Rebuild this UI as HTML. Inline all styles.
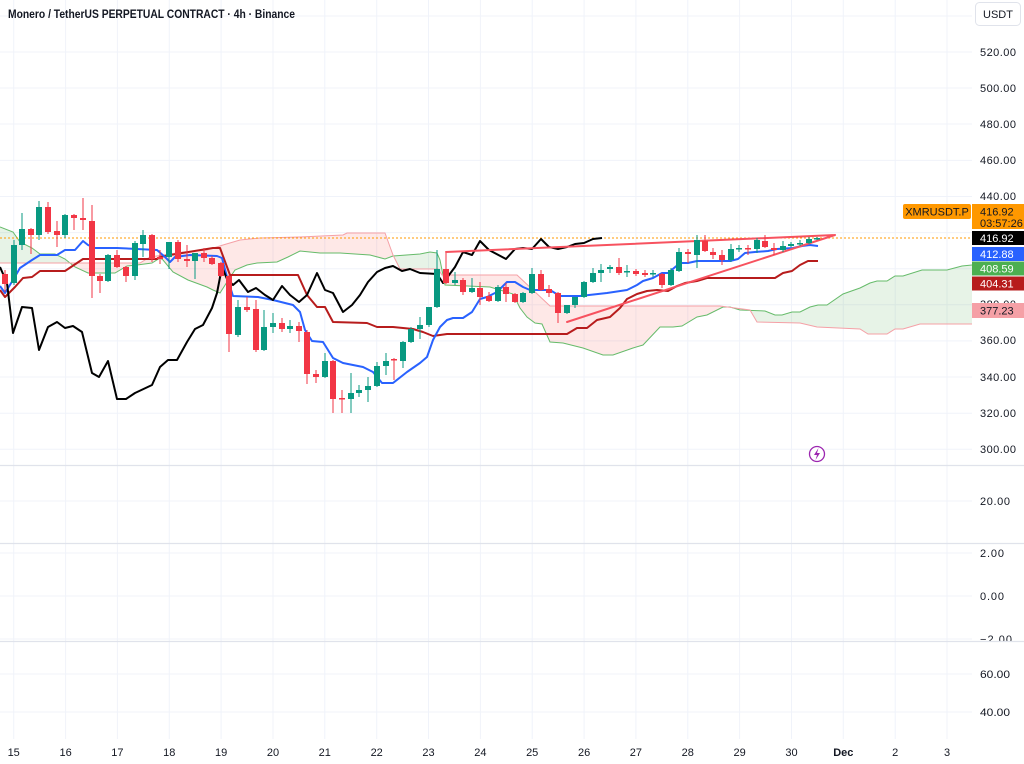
<!DOCTYPE html>
<html><head><meta charset="utf-8"><style>
html,body{margin:0;padding:0;background:#fff;}
svg{display:block;font-family:"Liberation Sans",sans-serif;}
</style></head><body>
<svg width="1024" height="764" viewBox="0 0 1024 764" xmlns="http://www.w3.org/2000/svg" xmlns:xlink="http://www.w3.org/1999/xlink">
<defs>
<clipPath id="above"><path d="M0,0 L0,263 140,263 150,257 183,252 207,250 223,245 240,240 260,238 300,237 343,235 347,233 385,233 393,255 400,269 438,269 442,275 517,275 550,306 720,306 750,310 757,322 800,323 817,327 860,329 868,334 887,334 895,329 903,329 920,324 972,324 L972,0 Z"/></clipPath>
<clipPath id="below"><path d="M0,263 140,263 150,257 183,252 207,250 223,245 240,240 260,238 300,237 343,235 347,233 385,233 393,255 400,269 438,269 442,275 517,275 550,306 720,306 750,310 757,322 800,323 817,327 860,329 868,334 887,334 895,329 903,329 920,324 972,324 L972,465 L0,465 Z"/></clipPath>
<clipPath id="plot"><rect x="0" y="0" width="972" height="465"/></clipPath>
<polygon id="cloud" points="0,227 13,232 20,242 32,248 40,254 55,254 65,259 75,267 88,273 115,273 127,266 137,265 152,263 160,258 163,260 173,272 188,280 207,287 213,290 220,293 227,282 235,270 247,265 257,263 277,262 288,257 300,251 320,253 340,253 370,255 385,259 393,256 420,254 430,252 437,253 440,260 445,285 490,287 513,294 520,308 527,317 535,323 542,324 550,342 563,343 583,348 603,355 613,355 633,348 643,345 660,327 673,327 682,326 697,317 707,315 723,307 730,307 740,310 765,311 775,315 782,315 792,312 800,312 810,307 818,305 827,305 843,294 860,288 870,283 877,281 887,281 895,276 903,276 922,270 947,270 962,266 972,265 972,324 920,324 903,329 895,329 887,334 868,334 860,329 817,327 800,323 757,322 750,310 720,306 550,306 517,275 442,275 438,269 400,269 393,255 385,233 347,233 343,235 300,237 260,238 240,240 223,245 207,250 183,252 150,257 140,263 0,263"/>
</defs>
<rect width="1024" height="764" fill="#fff"/>
<path stroke="#f0f3fa" stroke-width="1" fill="none" d="M13.7 0V739M65.6 0V739M117.4 0V739M169.3 0V739M221.1 0V739M273 0V739M324.8 0V739M376.7 0V739M428.5 0V739M480.4 0V739M532.2 0V739M584.1 0V739M635.9 0V739M687.8 0V739M739.6 0V739M791.5 0V739M843.3 0V739M895.2 0V739M947 0V739M0 16H972M0 52H972M0 88H972M0 124H972M0 160.4H972M0 196.5H972M0 232.6H972M0 268.7H972M0 304.8H972M0 340.9H972M0 377H972M0 413.2H972M0 449.3H972M0 501H972M0 553H972M0 596H972M0 639H972M0 674H972M0 712H972"/>
<g clip-path="url(#plot)">
<use xlink:href="#cloud" href="#cloud" clip-path="url(#above)" fill="rgba(67,160,71,0.13)"/>
<use xlink:href="#cloud" href="#cloud" clip-path="url(#below)" fill="rgba(244,67,54,0.12)"/>
<polyline fill="none" stroke="#66bb6a" stroke-width="1" points="0,227 13,232 20,242 32,248 40,254 55,254 65,259 75,267 88,273 115,273 127,266 137,265 152,263 160,258 163,260 173,272 188,280 207,287 213,290 220,293 227,282 235,270 247,265 257,263 277,262 288,257 300,251 320,253 340,253 370,255 385,259 393,256 420,254 430,252 437,253 440,260 445,285 490,287 513,294 520,308 527,317 535,323 542,324 550,342 563,343 583,348 603,355 613,355 633,348 643,345 660,327 673,327 682,326 697,317 707,315 723,307 730,307 740,310 765,311 775,315 782,315 792,312 800,312 810,307 818,305 827,305 843,294 860,288 870,283 877,281 887,281 895,276 903,276 922,270 947,270 962,266 972,265"/>
<polyline fill="none" stroke="#f5a0a6" stroke-width="1" points="0,263 140,263 150,257 183,252 207,250 223,245 240,240 260,238 300,237 343,235 347,233 385,233 393,255 400,269 438,269 442,275 517,275 550,306 720,306 750,310 757,322 800,323 817,327 860,329 868,334 887,334 895,329 903,329 920,324 972,324"/>
<line x1="0" y1="238" x2="972" y2="238" stroke="#ff9800" stroke-width="1" stroke-dasharray="2,2"/>
<polyline fill="none" stroke="#b71c1c" stroke-width="2" stroke-linejoin="round" points="0,290 5,297 15,287 23,278 32,277 40,271 65,271 83,259 157,259 160,257 170,255 213,248 220,248 230,275 298,275 307,295 317,307 325,307 333,322 367,323 377,327 393,327 413,329 423,332 433,336 447,334 567,334 577,328 587,328 597,320 610,317 620,308 627,299 637,294 647,291 657,290 668,291 677,286 685,283 697,281 707,278 775,278 783,273 792,271 800,265 808,261 818,261"/>
<polyline fill="none" stroke="#2962ff" stroke-width="2" stroke-linejoin="round" points="0,286 5,293 13,280 20,268 32,260 40,255 57,255 65,250 75,250 83,241 88,245 95,248 117,248 157,250 165,257 170,262 175,257 190,255 217,256 222,258 227,277 233,296 258,297 273,300 293,305 300,312 305,330 312,341 323,342 333,358 343,363 363,367 373,372 382,383 393,383 407,372 420,363 427,357 433,340 440,327 447,320 453,318 463,318 472,312 480,299 487,297 497,292 507,282 515,282 523,287 530,290 550,290 560,296 580,296 607,293 627,290 637,285 643,281 653,278 662,273 668,273 680,263 688,263 697,261 730,261 738,259 745,253 755,252 768,251 777,249 793,248 802,246 810,245 818,246"/>
<polyline fill="none" stroke="#000" stroke-width="2" stroke-linejoin="round" points="0,267 7,283 13,333 22,307 32,308 39,350 48,327 57,322 65,328 73,326 82,332 92,373 99,377 108,361 117,399 126,399 135,393 152,385 160,367 168,360 177,360 187,342 195,329 203,325 212,308 217,293 222,267 227,279 233,285 239,280 248,292 256,288 265,295 273,300 282,286 290,295 299,302 307,295 317,273 325,290 333,293 343,312 352,305 360,295 368,282 377,272 385,268 393,266 402,271 410,269 420,273 437,274 443,283 455,267 463,252 472,255 480,241 489,250 506,259 515,249 523,248 532,249 541,239 549,247 558,249 567,247 575,244 584,243 593,239 602,238"/>
<path stroke="#f7525f" stroke-width="2" stroke-linecap="round" fill="none" d="M446 252L835 235M567 322L835 235"/>
<path stroke="#089981" stroke-width="1" fill="none" d="M14 240V285M22 213V250M39 201V240M65 214V238M108 254V282M135 241V280M143 230V257M169 242V269M195 253V279M238 300V337M264 310V351M273 313V333M290 320V333M325 353V378M351 373V413M359 385V397M368 377V402M377 362V387M386 353V375M403 341V368M411 327V343M420 317V339M429 307V327M437 250V308M455 272V285M472 278V293M498 285V302M523 292V303M532 268V294M567 305V314M575 297V308M584 281V298M593 268V283M601 264V282M610 265V273M627 265V277M653 270V277M671 268V286M679 248V272M697 235V268M731 244V262M739 245V252M757 238V253M783 241V252M791 242V247M800 240V246M809 237V244M817 237V240"/>
<path fill="#089981" d="M11 245h6v38h-6zM19 229h6v16h-6zM36 207h6v28h-6zM62 215h6v20h-6zM105 255h6v26h-6zM132 243h6v33h-6zM140 235h6v9h-6zM166 242h6v15h-6zM192 253h6v8h-6zM235 307h6v28h-6zM261 327h6v23h-6zM270 323h6v4h-6zM287 326h6v3h-6zM322 361h6v16h-6zM348 393h6v6h-6zM356 390h6v3h-6zM365 386h6v4h-6zM374 366h6v20h-6zM383 361h6v5h-6zM400 342h6v19h-6zM408 329h6v13h-6zM417 325h6v4h-6zM426 307h6v18h-6zM434 269h6v38h-6zM452 280h6v3h-6zM469 288h6v4h-6zM495 287h6v14h-6zM520 293h6v9h-6zM529 274h6v19h-6zM564 305h6v8h-6zM572 297h6v8h-6zM581 282h6v15h-6zM590 273h6v9h-6zM598 270h6v3h-6zM607 267h6v2h-6zM624 271h6v1.5h-6zM650 273h6v1.5h-6zM668 270h6v15h-6zM676 252h6v19h-6zM694 240h6v15h-6zM728 249h6v11h-6zM736 248h6v1.5h-6zM754 240h6v9h-6zM780 246h6v4h-6zM788 244h6v2h-6zM797 243h6v1.5h-6zM806 239h6v4h-6zM814 238h6v1.5h-6z"/>
<path stroke="#f23645" stroke-width="1" fill="none" d="M5 270V292M31 228V254M48 202V234M57 221V247M74 214V230M83 198V230M92 205V298M100 274V293M117 250V268M126 266V282M152 234V262M160 250V264M178 240V262M187 245V267M204 248V262M212 256V265M221 262V277M229 275V352M247 297V312M256 300V352M282 318V332M299 322V342M307 330V384M316 370V383M333 360V413M342 390V413M394 358V380M446 253V284M463 278V295M480 282V305M489 292V302M506 283V302M515 293V303M541 270V291M549 285V297M558 292V323M619 258V275M636 269V276M645 270V277M662 273V288M688 249V263M705 235V252M713 248V259M722 250V265M748 245V255M765 235V248M774 243V255"/>
<path fill="#f23645" d="M2 274h6v10h-6zM28 229h6v6h-6zM45 207h6v25h-6zM54 231h6v4h-6zM71 215h6v3h-6zM80 218h6v2h-6zM89 221h6v55h-6zM97 276h6v5h-6zM114 255h6v12h-6zM123 267h6v9h-6zM149 235h6v24h-6zM157 257h6v2h-6zM175 242h6v17h-6zM184 259h6v2h-6zM201 253h6v5h-6zM209 258h6v6h-6zM218 263h6v13h-6zM226 276h6v58h-6zM244 307h6v3h-6zM253 309h6v41h-6zM279 323h6v6h-6zM296 326h6v5h-6zM304 332h6v42h-6zM313 374h6v3h-6zM330 361h6v38h-6zM339 398h6v1.5h-6zM391 359h6v1.5h-6zM443 269h6v14h-6zM460 280h6v12h-6zM477 288h6v9h-6zM486 296h6v5h-6zM503 287h6v7h-6zM512 294h6v8h-6zM538 274h6v16h-6zM546 289h6v4h-6zM555 293h6v20h-6zM616 267h6v6h-6zM633 271h6v3h-6zM642 273h6v2h-6zM659 274h6v11h-6zM685 252h6v2h-6zM702 241h6v10h-6zM710 252h6v3h-6zM719 255h6v5h-6zM745 248h6v1.5h-6zM762 241h6v6h-6zM771 248h6v2h-6z"/>
</g>
<circle cx="817" cy="454" r="7.5" fill="#fff" stroke="#9c27b0" stroke-width="1.3"/>
<path d="M818.5,448 L814,455 L817,455 L815.5,460 L820,453 L817,453 Z" fill="#9c27b0"/>
<path stroke="#e0e3eb" stroke-width="1.2" d="M0 465.5H1024M0 543.5H1024"/>
<text x="8" y="18" font-size="11.5" font-weight="bold" fill="#131722" textLength="287" lengthAdjust="spacingAndGlyphs">Monero / TetherUS PERPETUAL CONTRACT · 4h · Binance</text>
<rect x="975.5" y="2.5" width="45" height="23" rx="4" fill="#fff" stroke="#e0e3eb"/>
<text x="998" y="18" font-size="11" fill="#131722" text-anchor="middle">USDT</text>
<g font-size="11" fill="#131722" lengthAdjust="spacingAndGlyphs">
<text x="980" y="56" textLength="36">520.00</text>
<text x="980" y="92" textLength="36">500.00</text>
<text x="980" y="128" textLength="36">480.00</text>
<text x="980" y="164" textLength="36">460.00</text>
<text x="980" y="200" textLength="36">440.00</text>
<text x="980" y="308" textLength="36">380.00</text>
<text x="980" y="344" textLength="36">360.00</text>
<text x="980" y="381" textLength="36">340.00</text>
<text x="980" y="417" textLength="36">320.00</text>
<text x="980" y="453" textLength="36">300.00</text>
<text x="980" y="505" textLength="30">20.00</text>
<text x="980" y="557" textLength="24">2.00</text>
<text x="980" y="600" textLength="24">0.00</text>
<text x="980" y="643" textLength="32">−2.00</text>
</g>
<rect x="972" y="641.5" width="52" height="12" fill="#fff"/>
<path stroke="#e0e3eb" stroke-width="1.2" d="M0 641.5H1024"/>
<text x="980" y="678" font-size="11" fill="#131722" textLength="30" lengthAdjust="spacingAndGlyphs">60.00</text>
<text x="980" y="716" font-size="11" fill="#131722" textLength="30" lengthAdjust="spacingAndGlyphs">40.00</text>
<rect x="903" y="204" width="68" height="15" rx="2" fill="#ff9800"/>
<text x="937" y="215.5" font-size="11" fill="#131722" text-anchor="middle">XMRUSDT.P</text>
<rect x="972" y="204" width="52" height="25" fill="#ff9800"/>
<text x="980" y="215.5" font-size="11" fill="#131722">416.92</text>
<text x="980" y="227" font-size="11" fill="#131722">03:57:26</text>
<rect x="972" y="231" width="52" height="14" fill="#000"/>
<text x="980" y="242" font-size="11" fill="#fff">416.92</text>
<rect x="972" y="247" width="52" height="14" fill="#2962ff"/>
<text x="980" y="258" font-size="11" fill="#fff">412.88</text>
<rect x="972" y="261.5" width="52" height="14" fill="#4caf50"/>
<text x="980" y="272.5" font-size="11" fill="#fff">408.59</text>
<rect x="972" y="276.5" width="52" height="14" fill="#b71c1c"/>
<text x="980" y="287.5" font-size="11" fill="#fff">404.31</text>
<rect x="972" y="303" width="52" height="15" fill="#f5a0a6"/>
<text x="980" y="314.5" font-size="11" fill="#131722">377.23</text>
<g font-size="11" fill="#131722" text-anchor="middle">
<text x="13.7" y="756">15</text><text x="65.6" y="756">16</text><text x="117.4" y="756">17</text><text x="169.3" y="756">18</text><text x="221.1" y="756">19</text><text x="273" y="756">20</text><text x="324.8" y="756">21</text><text x="376.7" y="756">22</text><text x="428.5" y="756">23</text><text x="480.4" y="756">24</text><text x="532.2" y="756">25</text><text x="584.1" y="756">26</text><text x="635.9" y="756">27</text><text x="687.8" y="756">28</text><text x="739.6" y="756">29</text><text x="791.5" y="756">30</text><text x="843.3" y="756" font-weight="bold">Dec</text><text x="895.2" y="756">2</text><text x="947" y="756">3</text>
</g>
</svg>
</body></html>
